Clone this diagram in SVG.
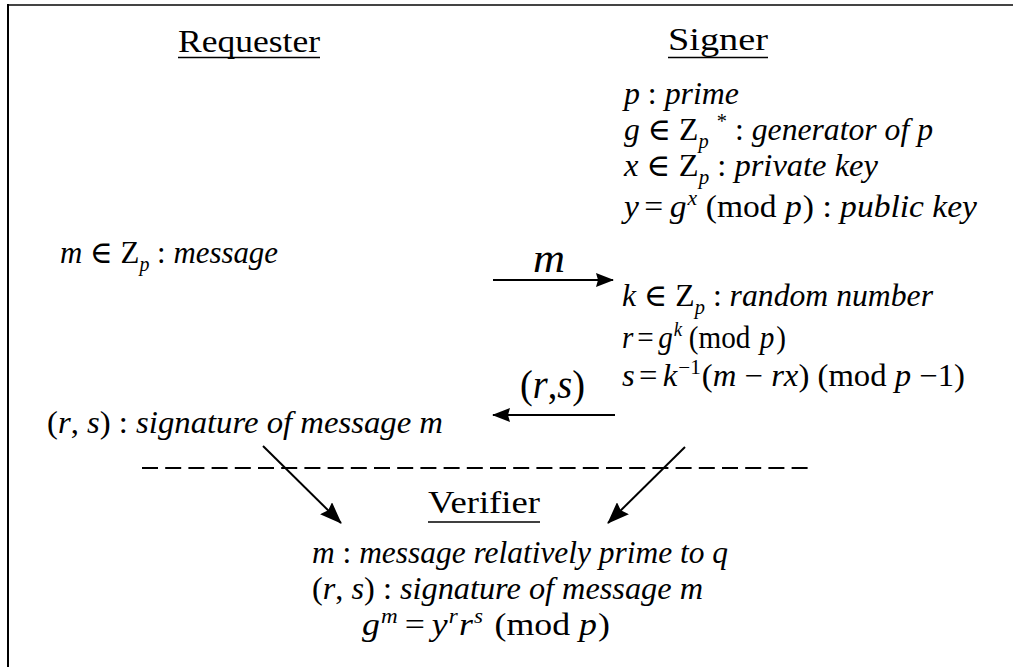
<svg xmlns="http://www.w3.org/2000/svg" width="1013" height="667" viewBox="0 0 1013 667">
<style>
.t{font-family:"Liberation Serif","Times New Roman","DejaVu Serif",serif;font-size:31px;fill:#000}
.i{font-style:italic}
.s{font-size:20px}
.ln{stroke:#000;stroke-width:2;fill:none}
.ul{stroke:#000;stroke-width:1.5}
</style>
<defs>
<marker id="ah" markerUnits="userSpaceOnUse" markerWidth="18" markerHeight="14" refX="17" refY="7" orient="auto" viewBox="0 0 18 14">
<path d="M0,0 L18,7 L0,14 L2,7 z" fill="#000"/>
</marker>
<marker id="ahd" markerUnits="userSpaceOnUse" markerWidth="22" markerHeight="17" refX="21" refY="8.5" orient="auto" viewBox="0 0 22 17">
<path d="M0,0 L22,8.5 L0,17 L3,8.5 z" fill="#000"/>
</marker>
</defs>
<rect width="1013" height="667" fill="#fff"/>
<g id="frame">
<line x1="8" y1="5" x2="1013" y2="5" stroke="#444" stroke-width="2"/>
<line x1="8" y1="4" x2="8" y2="667" stroke="#000" stroke-width="2"/>
</g>
<g id="requester">
<text class="t" x="178" y="52" textLength="142" lengthAdjust="spacingAndGlyphs">Requester</text>
<line class="ul" x1="178" y1="57.5" x2="320" y2="57.5"/>
<text class="t" x="60" y="263" textLength="218" lengthAdjust="spacingAndGlyphs"><tspan class="i">m</tspan> ∈ Z<tspan class="s i" dy="8">p</tspan><tspan dy="-8"> : </tspan><tspan class="i">message</tspan></text>
<text class="t" x="47" y="433" textLength="396" lengthAdjust="spacingAndGlyphs">(<tspan class="i">r</tspan>, <tspan class="i">s</tspan>) : <tspan class="i">signature of  message m</tspan></text>
</g>
<g id="signer">
<text class="t" x="668" y="50" textLength="100" lengthAdjust="spacingAndGlyphs">Signer</text>
<line class="ul" x1="668" y1="57.5" x2="768" y2="57.5"/>
<text class="t" x="624" y="104" textLength="115" lengthAdjust="spacingAndGlyphs"><tspan class="i">p</tspan> : <tspan class="i">prime</tspan></text>
<text class="t" x="624" y="140" textLength="309" lengthAdjust="spacingAndGlyphs"><tspan class="i">g</tspan> ∈ Z<tspan class="s i" dy="8">p</tspan><tspan class="s" dy="-20" dx="8">*</tspan><tspan dy="12"> : </tspan><tspan class="i">generator of  p</tspan></text>
<text class="t" x="624" y="176" textLength="254" lengthAdjust="spacingAndGlyphs"><tspan class="i">x</tspan> ∈ Z<tspan class="s i" dy="8">p</tspan><tspan dy="-8"> : </tspan><tspan class="i">private key</tspan></text>
<text class="t" x="624" y="217" textLength="353" lengthAdjust="spacingAndGlyphs"><tspan class="i">y</tspan><tspan dx="5">=</tspan><tspan class="i" dx="6">g</tspan><tspan class="s i" dy="-12" dx="1">x</tspan><tspan dy="12" dx="8">(mod </tspan><tspan class="i">p</tspan><tspan dx="1">)</tspan> : <tspan class="i">public key</tspan></text>
<text class="t" x="622" y="306" textLength="311" lengthAdjust="spacingAndGlyphs"><tspan class="i">k</tspan> ∈ Z<tspan class="s i" dy="8">p</tspan><tspan dy="-8"> : </tspan><tspan class="i">random number</tspan></text>
<text class="t" x="622" y="348" textLength="164" lengthAdjust="spacingAndGlyphs"><tspan class="i">r</tspan><tspan dx="4">=</tspan><tspan class="i" dx="5">g</tspan><tspan class="s i" dy="-12" dx="1">k</tspan><tspan dy="12" dx="7">(mod</tspan><tspan class="i" dx="10">p</tspan><tspan dx="2">)</tspan></text>
<text class="t" x="622" y="386" textLength="343" lengthAdjust="spacingAndGlyphs"><tspan class="i">s</tspan><tspan dx="4">=</tspan><tspan class="i" dx="5">k</tspan><tspan class="s" dy="-12" dx="1">−1</tspan><tspan dy="12" dx="1">(</tspan><tspan class="i">m</tspan> − <tspan class="i">rx</tspan>) (mod <tspan class="i">p</tspan> −1)</text>
</g>
<g id="verifier">
<text class="t" x="428" y="513" textLength="112" lengthAdjust="spacingAndGlyphs">Verifier</text>
<line class="ul" x1="428" y1="522" x2="540" y2="522"/>
<text class="t" x="312" y="563" textLength="416" lengthAdjust="spacingAndGlyphs"><tspan class="i">m</tspan> : <tspan class="i">message relatively  prime to q</tspan></text>
<text class="t" x="312" y="599" textLength="391" lengthAdjust="spacingAndGlyphs">(<tspan class="i">r</tspan>, <tspan class="i">s</tspan>) : <tspan class="i">signature of  message m</tspan></text>
<text class="t" x="362" y="635" textLength="248" lengthAdjust="spacingAndGlyphs"><tspan class="i">g</tspan><tspan class="s i" dy="-12" dx="1">m</tspan><tspan dy="12" dx="6">=</tspan><tspan class="i" dx="6">y</tspan><tspan class="s i" dy="-12" dx="1">r</tspan><tspan class="i" dy="12" dx="1">r</tspan><tspan class="s i" dy="-12" dx="1">s</tspan><tspan dy="12" dx="10">(mod </tspan><tspan class="i">p</tspan><tspan dx="1">)</tspan></text>
</g>
<g id="connectors">
<line class="ln" x1="493" y1="280" x2="613" y2="280" marker-end="url(#ah)"/>
<text class="t i" x="533" y="272" style="font-size:40px" textLength="32" lengthAdjust="spacingAndGlyphs">m</text>
<line class="ln" x1="615" y1="415" x2="493" y2="415" marker-end="url(#ah)"/>
<text class="t" x="520" y="398" style="font-size:41px" textLength="65" lengthAdjust="spacingAndGlyphs">(<tspan class="i">r</tspan>,<tspan class="i">s</tspan>)</text>
<line class="ln" x1="263" y1="446" x2="341" y2="523" marker-end="url(#ahd)"/>
<line class="ln" x1="685" y1="447" x2="608" y2="523" marker-end="url(#ahd)"/>
<line class="ln" x1="142" y1="468" x2="808" y2="468" stroke-dasharray="16 7.2"/>
</g>
</svg>
